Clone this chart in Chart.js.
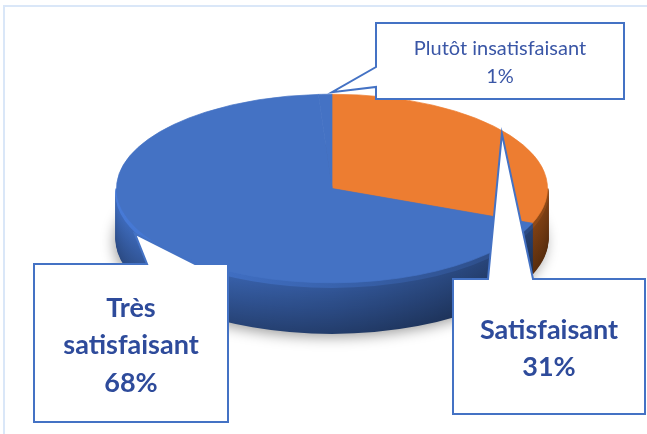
<!DOCTYPE html>
<html>
<head>
<meta charset="utf-8">
<script src="https://cdn.jsdelivr.net/npm/chart.js@4/dist/chart.umd.min.js"></script>
<style>
  html, body { margin: 0; padding: 0; background: #fff; }
  canvas { display: block; }
</style>
</head>
<body>
<canvas id="pieChart" width="647" height="434"></canvas>
<script>
// chart data (percent)
const labels = ['Satisfaisant', 'Très satisfaisant', 'Plutôt insatisfaisant'];
const values = [31, 68, 1];
const topColors = ['#ED7D31', '#4472C4', '#4472C4'];
const sideColors = ['#C9661F', '#3B66B4', '#3B66B4'];

// 3d look
const squash = 0.4375;   // ellipse ry / rx
const faceCenterY = 188.5;
const depth = 50;

// callout layout (boxes are placed by hand, tips follow the slices)
const callouts = [
    { index: 2, box: [376, 23, 624, 99], edge: 'left', base: [67, 87], tip: { frac: 1, r: 1, drop: -2 },
      font: '400 20px Lato', color: '#3A56A6', lineHeight: 28, capHalf: 8 },
    { index: 0, box: [453, 279, 645, 414], edge: 'top', base: [488, 533], tip: { frac: 0.48, r: 0.98, drop: 0 },
      font: '700 27px Lato', color: '#2E4B9B', lineHeight: 37.5, capHalf: 11 },
    { index: 1, box: [34, 264, 228, 422], edge: 'top', base: [147, 195], tip: { frac: 0.55, r: 1, drop: 7 },
      font: '700 27px Lato', color: '#2E4B9B', lineHeight: 37.5, capHalf: 11 }
];

function shade(hex, f) {
    const n = parseInt(hex.slice(1), 16);
    const c = [(n >> 16) & 255, (n >> 8) & 255, n & 255].map(v => Math.max(0, Math.min(255, Math.round(v * f))));
    return `rgb(${c[0]}, ${c[1]}, ${c[2]})`;
}

function wrapText(ctx, text, maxWidth) {
    const words = text.split(' ');
    let lines = [];
    let line = '';
    words.forEach(w => {
        const test = line ? line + ' ' + w : w;
        if (line && ctx.measureText(test).width > maxWidth) {
            lines.push(line);
            line = w;
        } else {
            line = test;
        }
    });
    if (line) lines.push(line);
    return lines;
}

const pie3d = {
    id: 'pie3d',
    beforeDraw(chart) {
        const ctx = chart.ctx;
        ctx.save();
        ctx.fillStyle = '#fff';
        ctx.fillRect(0, 0, chart.width, chart.height);
        // light frame like the pasted picture
        ctx.fillStyle = '#DAE7F8';
        ctx.fillRect(3, 5, chart.width - 3, 2);
        ctx.fillRect(3, 5, 2, chart.height - 5);
        ctx.restore();
    },
    beforeDatasetsDraw(chart) {
        const ctx = chart.ctx;
        const arcs = chart.getDatasetMeta(0).data;
        const p = arcs[0].getProps(['x', 'y', 'outerRadius']);
        const rx = p.outerRadius;
        const ry = rx * squash;
        const cx = p.x;

        // shadow under the disc
        ctx.save();
        ctx.shadowColor = 'rgba(0, 0, 0, 0.4)';
        ctx.shadowBlur = 14;
        ctx.shadowOffsetY = 4;
        ctx.shadowOffsetX = -2;
        ctx.beginPath();
        ctx.ellipse(cx, faceCenterY + depth, rx, ry, 0, 0, Math.PI * 2);
        ctx.fillStyle = '#555';
        ctx.fill();
        ctx.restore();

        // side wall
        ctx.save();
        ctx.lineWidth = 2.2;
        for (let d = depth; d >= 0; d--) {
            const t = d / depth;
            const f = t < 0.1 ? 1.14 : 1.02 - 0.32 * t;
            arcs.forEach((arc, i) => {
                const a = arc.getProps(['startAngle', 'endAngle']);
                const a0 = Math.max(a.startAngle, 0);
                const a1 = Math.min(a.endAngle, Math.PI);
                if (a1 <= a0) return;
                const g = ctx.createLinearGradient(cx - rx, 0, cx + rx, 0);
                g.addColorStop(0, shade(sideColors[i], f * 1.05));
                g.addColorStop(0.5, shade(sideColors[i], f * 0.85));
                g.addColorStop(1, shade(sideColors[i], f * 0.62));
                ctx.strokeStyle = g;
                ctx.beginPath();
                ctx.ellipse(cx, faceCenterY + d, rx, ry, 0, a0, a1);
                ctx.stroke();
            });
        }
        ctx.restore();

        // squash the top face
        ctx.save();
        ctx.translate(cx, faceCenterY);
        ctx.scale(1, squash);
        ctx.translate(-cx, -p.y);
    },
    afterDatasetsDraw(chart) {
        chart.ctx.restore();
    },
    afterDraw(chart) {
        const ctx = chart.ctx;
        const arcs = chart.getDatasetMeta(0).data;
        const total = values.reduce((s, v) => s + v, 0);

        callouts.forEach(c => {
            const arc = arcs[c.index].getProps(['x', 'startAngle', 'endAngle', 'outerRadius']);
            const ang = arc.startAngle + (arc.endAngle - arc.startAngle) * c.tip.frac;
            const tx = arc.x + arc.outerRadius * c.tip.r * Math.cos(ang);
            const ty = faceCenterY + arc.outerRadius * squash * c.tip.r * Math.sin(ang) + c.tip.drop;
            const [x0, y0, x1, y1] = c.box;

            ctx.save();
            ctx.beginPath();
            if (c.edge === 'top') {
                ctx.moveTo(x0, y0);
                ctx.lineTo(c.base[0], y0);
                ctx.lineTo(tx, ty);
                ctx.lineTo(c.base[1], y0);
                ctx.lineTo(x1, y0);
                ctx.lineTo(x1, y1);
                ctx.lineTo(x0, y1);
            } else {
                ctx.moveTo(x0, y0);
                ctx.lineTo(x1, y0);
                ctx.lineTo(x1, y1);
                ctx.lineTo(x0, y1);
                ctx.lineTo(x0, c.base[1]);
                ctx.lineTo(tx, ty);
                ctx.lineTo(x0, c.base[0]);
            }
            ctx.closePath();
            ctx.fillStyle = '#fff';
            ctx.fill();
            ctx.lineWidth = 2;
            ctx.strokeStyle = '#4472C4';
            ctx.lineJoin = 'miter';
            ctx.stroke();

            ctx.font = c.font;
            ctx.fillStyle = c.color;
            ctx.textAlign = 'center';
            ctx.textBaseline = 'alphabetic';
            const lines = wrapText(ctx, labels[c.index], x1 - x0 - 40);
            lines.push(Math.round(values[c.index] / total * 100) + '%');
            const mid = (y0 + y1) / 2;
            const xc = (x0 + x1) / 2;
            lines.forEach((ln, i) => {
                const y = mid + (i - (lines.length - 1) / 2) * c.lineHeight + c.capHalf;
                ctx.fillText(ln, xc, y);
            });
            ctx.restore();
        });
    }
};

new Chart(document.getElementById('pieChart'), {
    type: 'pie',
    data: {
        labels: labels,
        datasets: [{
            data: values,
            backgroundColor: topColors,
            borderColor: topColors,
            borderWidth: 1
        }]
    },
    options: {
        responsive: false,
        animation: false,
        layout: {
            padding: { left: 116, right: 99, top: 1, bottom: 1 }
        },
        plugins: {
            legend: { display: false },
            tooltip: { enabled: false }
        }
    },
    plugins: [pie3d]
});
</script>
</body>
</html>
